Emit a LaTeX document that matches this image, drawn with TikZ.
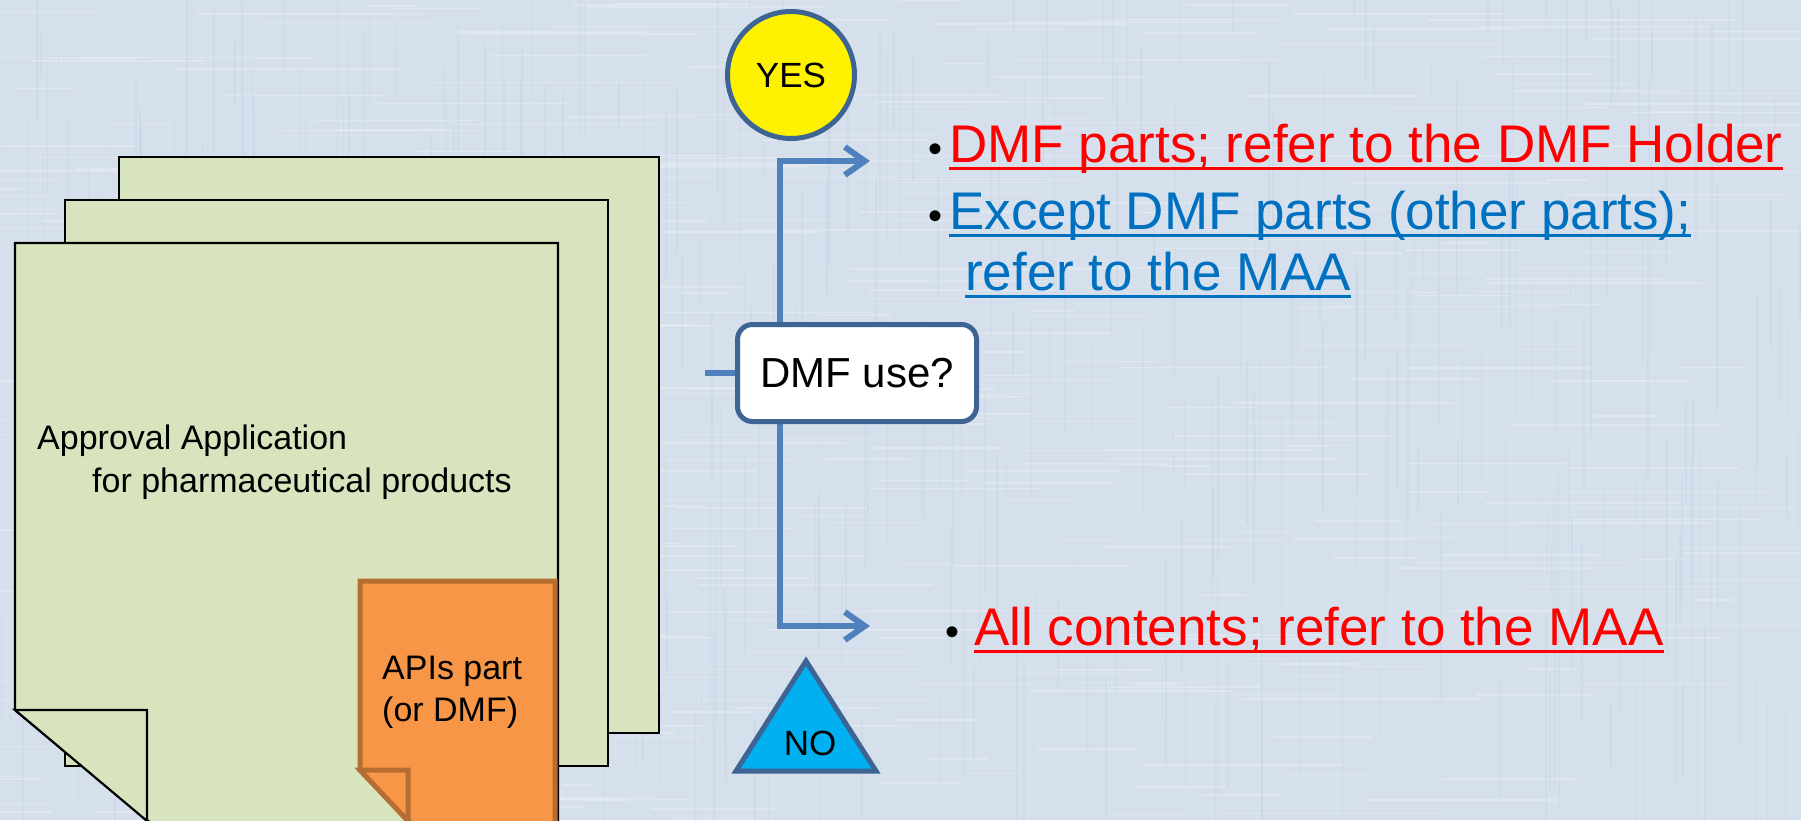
\documentclass[tikz,border=0pt]{standalone}
\usepackage{fontspec}
\setmainfont{Liberation Sans}
\usetikzlibrary{arrows.meta,positioning}
\definecolor{bgBlue}{HTML}{D6E0EC}
\definecolor{bgDark}{HTML}{A9BCD6}
\definecolor{pageGreen}{HTML}{D7E4BD}
\definecolor{noteOrange}{HTML}{F79646}
\definecolor{noteEdge}{HTML}{B66D31}
\definecolor{flowBlue}{HTML}{4F81BD}
\definecolor{edgeBlue}{HTML}{3E6494}
\definecolor{noCyan}{HTML}{00B0F0}
\definecolor{linkBlue}{HTML}{0070C0}

% underline drawn as a rule under the text
\newsavebox\ulbox
\newcommand\ulined[1]{\sbox\ulbox{#1}\rlap{\rule[-8pt]{\wd\ulbox}{3pt}}\usebox\ulbox}
% black bullet in a box of given width
\newcommand\bul[1]{\makebox[#1][l]{\color{black}\fontsize{40}{40}\selectfont\textbullet}}

\tikzset{
    fiber/.style={draw=bgDark, line width=1.5pt, opacity=0.14},
    fiber light/.style={draw=white, line width=1.5pt, opacity=0.2},
    page/.style={draw=black, line width=2.2pt, fill=pageGreen},
    note/.style={draw=noteEdge, line width=5pt, fill=noteOrange, line join=miter},
    bodytext/.style={font=\fontsize{34}{40}\selectfont, inner sep=0pt, anchor=base west},
    flow/.style={draw=flowBlue, line width=6pt},
    flowarrow/.style={flow, -{Straight Barb[length=20pt, width=28pt]}},
    decision/.style={draw=edgeBlue, line width=5pt, fill=white, rounded corners=15pt,
        minimum width=239pt, minimum height=97pt, font=\fontsize{42}{42}\selectfont},
    yesmark/.style={circle, draw=edgeBlue, line width=5pt, fill=yellow,
        minimum size=127pt, font=\fontsize{35}{35}\selectfont},
    nomark/.style={draw=edgeBlue, line width=5pt, fill=noCyan, line join=miter},
    item/.style={font=\fontsize{53}{60}\selectfont, inner sep=0pt, anchor=base west}
}

\begin{document}
\begin{tikzpicture}[x=1pt,y=-1pt]
\useasboundingbox (0,0) rectangle (1801,820);
\clip (0,0) rectangle (1801,820);

% linen backdrop
\fill[bgBlue] (0,0) rectangle (1801,820);
\pgfmathsetseed{11}
\foreach \i in {1,...,420}{
    \pgfmathsetmacro\fx{rnd*1801}
    \pgfmathsetmacro\fy{rnd*820-100}
    \pgfmathsetmacro\fl{40+rnd*200}
    \draw[fiber] (\fx,\fy) -- ++(0,\fl);
    \pgfmathsetmacro\gx{rnd*1801-100}
    \pgfmathsetmacro\gy{rnd*820}
    \draw[fiber light] (\gx,\gy) -- ++(\fl,0);
}

% stack of application pages
\draw[page] (119,157) rectangle (659,733);
\draw[page] (65,200) rectangle (608,766);
\draw[page] (15,243) -- (558,243) -- (558,830) -- (159,830) -- (15,710) -- cycle;
\draw[page] (15,710) -- (147,710) -- (147,821) -- cycle;
\node[bodytext] (appl) at (37,449) {Approval Application};
\node[bodytext] (pharm) at (92,492) {for pharmaceutical products};

% API note on the front page
\draw[note] (360,581) -- (555,581) -- (555,830) -- (417,830) -- (360,770) -- cycle;
\draw[note] (360,770) -- (408,770) -- (408,821) -- cycle;
\node[bodytext] (api) at (382,679) {APIs part};
\node[bodytext] (apidmf) at (382,721) {(or DMF)};

% branch lines
\coordinate (stub) at (705,373);
\coordinate (decw) at (735,373);
\coordinate (split) at (780,373);
\coordinate (yesend) at (870,161);
\coordinate (noend) at (870,626);
\draw[flow] (stub) -- (decw);
\draw[flowarrow] (split) |- (yesend);
\draw[flowarrow] (split) |- (noend);

\node[decision, anchor=west] (dec) at (decw) {DMF use?};
\node[yesmark] (yes) at (791,75) {YES};
\draw[nomark] (736,771) -- (806,661) -- (876,771) -- cycle;
\node[font=\fontsize{35}{35}\selectfont, inner sep=0pt] (no) at (810,743) {NO};

% outcomes
\node[item, text=red] (dmf) at (928,162) {\bul{21pt}\ulined{DMF parts; refer to the DMF Holder}};
\node[item, text=linkBlue] (other) at (928,229) {\bul{21pt}\ulined{Except DMF parts (other parts);}};
\node[item, text=linkBlue] (maa) at (965,290) {\ulined{refer to the MAA}};
\node[item, text=red] (all) at (945,645) {\bul{29pt}\ulined{All contents; refer to the MAA}};
\end{tikzpicture}
\end{document}
